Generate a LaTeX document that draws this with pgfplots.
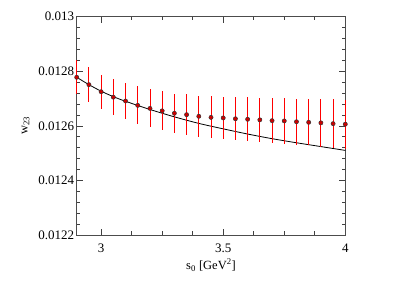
\documentclass[border=0pt]{standalone}
\usepackage{pgfplots}
\pgfplotsset{compat=1.18}
\usepackage{fontspec}
\setmainfont{Liberation Serif}
\begin{document}
\begin{tikzpicture}
\begin{axis}[
  name=ax,
  scale only axis,
  width=268.6pt, height=218.3pt,
  xmin=2.9, xmax=4.0,
  ymin=0.0122, ymax=0.013,
  xtick={3,3.5,4},
  xticklabels={3,3.5,4},
  ytick={0.0122,0.0124,0.0126,0.0128,0.013},
  yticklabels={0.0122,0.0124,0.0126,0.0128,0.013},
  minor x tick num=3,
  minor y tick num=4,
  tick align=inside,
  major tick length=6pt,
  minor tick length=3.5pt,
  every tick/.style={black!75, line width=0.6pt},
  axis line style={black!70, line width=0.9pt},
  ticklabel style={font=\fontsize{13}{15}\selectfont},
  label style={font=\fontsize{12.5}{14}\selectfont},
  xlabel={s\textsubscript{0} [GeV\textsuperscript{2}]},
  ylabel={w\textsubscript{23}},
  yticklabel style={xshift=1pt},
  xticklabel style={yshift=-5pt},
  xlabel style={yshift=0pt},
  ylabel style={yshift=2pt},
  clip=false,
  scaled ticks=false,
]
\addplot[black, line width=0.8pt, smooth] coordinates {
(2.9,0.012778) (2.95,0.012751) (3.0,0.012727) (3.05,0.012707) (3.1,0.012690)
(3.2,0.012660) (3.3,0.012633) (3.4,0.012609) (3.5,0.012589) (3.6,0.012570)
(3.7,0.012553) (3.8,0.012538) (3.9,0.012524) (4.0,0.012510)
};
\addplot[only marks, mark=*, mark size=2.1pt,
  mark options={fill=red!80!black, draw=black!80, line width=0.5pt},
  error bars/.cd, y dir=both, y explicit,
  error bar style={red, line width=0.9pt}, error mark=none]
  table[x=x, y=y, y error=e] {
x y e
2.9 0.012778 0.000062
2.95 0.012751 0.000064
3.0 0.012725 0.000063
3.05 0.012705 0.000067
3.1 0.012691 0.000067
3.15 0.012675 0.000070
3.2 0.012664 0.000070
3.25 0.012655 0.000072
3.3 0.012646 0.000072
3.35 0.012641 0.000075
3.4 0.012635 0.000076
3.45 0.012631 0.000077
3.5 0.012629 0.000077
3.55 0.012626 0.000078
3.6 0.012624 0.000080
3.65 0.012622 0.000080
3.7 0.012619 0.000082
3.75 0.012618 0.000083
3.8 0.012615 0.000084
3.85 0.012613 0.000085
3.9 0.012611 0.000088
3.95 0.012608 0.000089
4.0 0.012606 0.000090
};
\end{axis}
\path ([xshift=-76.7pt, yshift=-50pt]ax.south west) rectangle ([xshift=57.7pt, yshift=16.7pt]ax.north east);
\end{tikzpicture}
\end{document}
